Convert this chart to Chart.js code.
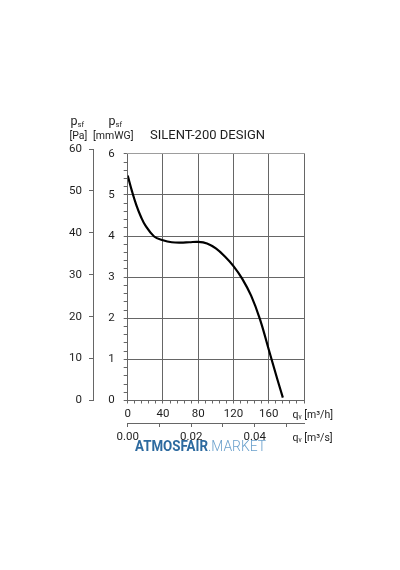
<!DOCTYPE html>
<html>
<head>
<meta charset="utf-8">
<script src="https://cdn.jsdelivr.net/npm/chart.js@4.4.1/dist/chart.umd.min.js"></script>
<style>
  html, body { margin: 0; padding: 0; background: #fff; }
</style>
</head>
<body>
<canvas id="fan" width="400" height="570"></canvas>
<script>
// fan curve: flow (m3/h) vs static pressure (mmWG)
const flowM3h = [0, 5, 10, 15, 20, 30, 40, 50, 60, 70, 80, 90, 100, 110, 120, 130, 140, 150, 160, 170, 176];
const pressureMmWG = [5.47, 5.08, 4.74, 4.47, 4.26, 3.99, 3.9, 3.85, 3.84, 3.85, 3.86, 3.82, 3.70, 3.51, 3.27, 2.96, 2.55, 1.98, 1.24, 0.5, 0.07];

const flowTicksM3h = [0, 40, 80, 120, 160];
const flowTicksM3s = [0.00, 0.02, 0.04];
const pressureTicksPa = [0, 10, 20, 30, 40, 50, 60];
const pressureTicksMmWG = [0, 1, 2, 3, 4, 5, 6];

const chartTitle = "SILENT-200 DESIGN";
const FONT = "Roboto, 'DejaVu Sans', sans-serif";
const GRID = "#666";
const TXT = "#1e1e1e";

function near(v, list) {
    return list.some(t => Math.abs(t - v) < 1e-6);
}

// white-out the part of the area above 6 mmWG (the Pa axis goes a bit higher)
const topMask = {
    id: "topMask",
    beforeDatasetsDraw(chart) {
        const a = chart.chartArea;
        const y6 = chart.scales.y.getPixelForValue(6);
        const c = chart.ctx;
        c.save();
        c.fillStyle = "#fff";
        c.fillRect(a.left - 1, a.top - 1, a.right - a.left + 2, y6 - a.top + 0.5);
        c.restore();
    }
};

// header texts, flow unit labels and the watermark
const texts = {
    id: "texts",
    afterDraw(chart) {
        const c = chart.ctx;
        c.save();
        c.fillStyle = TXT;
        c.textBaseline = "alphabetic";

        function psf(x, y) {
            c.font = "12.5px " + FONT;
            c.fillText("p", x, y);
            const w = c.measureText("p").width;
            c.font = "7.5px " + FONT;
            c.fillText("sf", x + w, y + 2.5);
        }
        psf(70.5, 124.5);
        psf(108.5, 124.5);
        c.font = "10.5px " + FONT;
        c.fillText("[Pa]", 69.5, 139);
        c.fillText("[mmWG]", 93, 139);

        c.font = "13px " + FONT;
        c.fillText(chartTitle, 150, 139);

        function qv(x, y, unit) {
            c.font = "10.5px " + FONT;
            c.fillText("q", x, y);
            let w = c.measureText("q").width;
            c.font = "6.5px " + FONT;
            c.fillText("v", x + w, y + 1);
            w += c.measureText("v").width;
            c.font = "10.5px " + FONT;
            c.fillText(" " + unit, x + w, y);
        }
        qv(292.5, 418, "[m\u00b3/h]");
        qv(292.5, 441, "[m\u00b3/s]");

        // watermark
        const wy = 450.5;
        c.font = "bold 14px " + FONT;
        const w1 = c.measureText("ATMOSFAIR").width;
        c.save();
        c.translate(135, wy);
        c.scale(73 / w1, 1);
        c.fillStyle = "#2d6a9f";
        c.fillText("ATMOSFAIR", 0, 0);
        c.restore();
        c.font = "300 14px " + FONT;
        const w2 = c.measureText(".MARKET").width;
        c.save();
        c.translate(208, wy);
        c.scale(58 / w2, 1);
        c.fillStyle = "#6aa0cc";
        c.fillText(".MARKET", 0, 0);
        c.restore();

        c.restore();
    }
};

const tickFont = {family: FONT, size: 11.5};

const ctx = document.getElementById("fan").getContext("2d");
const fanChart = new Chart(ctx, {
    type: "line",
    data: {
        datasets: [{
            label: chartTitle,
            data: flowM3h.map((q, i) => ({x: q, y: pressureMmWG[i]})),
            borderColor: "#000",
            borderWidth: 2.2,
            pointRadius: 0,
            fill: false,
            tension: 0.4,
            xAxisID: "x",
            yAxisID: "y"
        }]
    },
    options: {
        responsive: false,
        animation: false,
        layout: {
            padding: {left: 60, right: 96, top: 149, bottom: 123}
        },
        plugins: {
            legend: {display: false},
            tooltip: {enabled: false},
            title: {display: false}
        },
        scales: {
            x: {
                type: "linear",
                position: "bottom",
                weight: 0,
                min: 0,
                max: 200,
                ticks: {
                    stepSize: 8,
                    autoSkip: false,
                    maxRotation: 0,
                    padding: 3.5,
                    color: TXT,
                    font: tickFont,
                    callback: v => near(v, flowTicksM3h) ? String(v) : ""
                },
                grid: {
                    color: g => (g.tick && near(g.tick.value % 40, [0, 40])) ? GRID : "rgba(0,0,0,0)",
                    tickColor: GRID,
                    tickLength: 3,
                    lineWidth: 1
                },
                border: {color: GRID},
                afterFit: s => { s.height = 22.5; }
            },
            xs: {
                type: "linear",
                position: "bottom",
                weight: 1,
                min: 0,
                max: 200 / 3600,
                ticks: {
                    stepSize: 0.01,
                    includeBounds: false,
                    autoSkip: false,
                    maxRotation: 0,
                    padding: 3,
                    color: TXT,
                    font: tickFont,
                    callback: v => near(v, flowTicksM3s) ? v.toFixed(2) : ""
                },
                grid: {drawOnChartArea: false, color: GRID, tickLength: 4},
                border: {color: GRID},
                afterFit: s => { s.height = 24; }
            },
            y: {
                type: "linear",
                position: "left",
                weight: 0,
                min: 0,
                max: 60 / 9.80665,
                ticks: {
                    stepSize: 0.2,
                    includeBounds: false,
                    autoSkip: false,
                    padding: 9,
                    color: TXT,
                    font: tickFont,
                    callback: v => near(v, pressureTicksMmWG) ? String(Math.round(v)) : ""
                },
                grid: {
                    color: g => (g.tick && near(g.tick.value, pressureTicksMmWG)) ? GRID : "rgba(0,0,0,0)",
                    tickColor: GRID,
                    tickLength: 4
                },
                border: {color: GRID},
                afterFit: s => { s.width = 34.7; }
            },
            yPa: {
                type: "linear",
                position: "left",
                weight: 1,
                min: 0,
                max: 60,
                ticks: {
                    stepSize: 10,
                    padding: 7,
                    color: TXT,
                    font: tickFont,
                    callback: v => near(v, pressureTicksPa) ? String(v) : ""
                },
                grid: {drawOnChartArea: false, color: GRID, tickLength: 4},
                border: {color: GRID},
                afterFit: s => { s.width = 33; }
            }
        }
    },
    plugins: [topMask, texts]
});
</script>
</body>
</html>
